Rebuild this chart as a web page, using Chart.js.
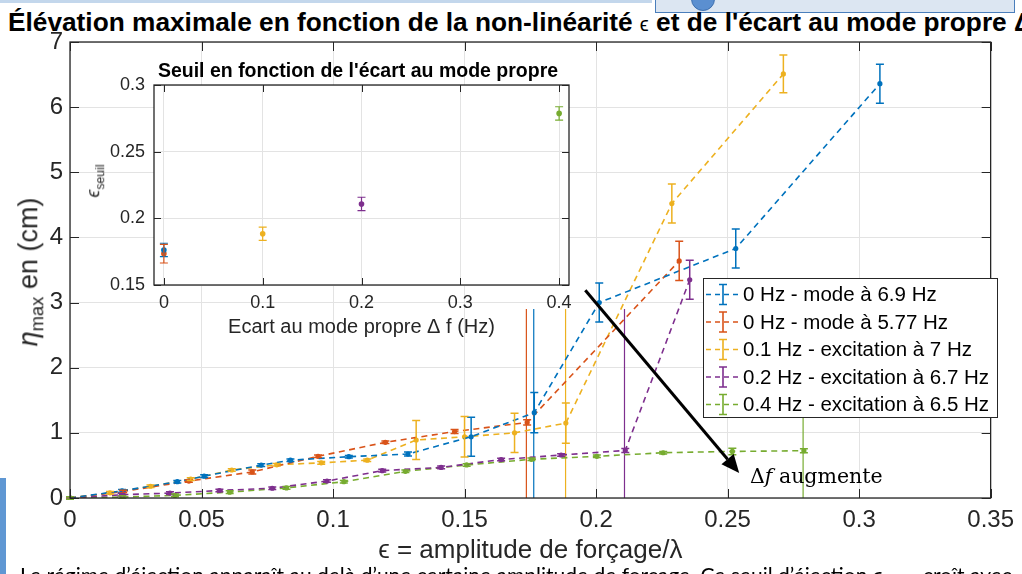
<!DOCTYPE html>
<html lang="fr">
<head>
<meta charset="utf-8">
<title>Élévation maximale</title>
<script src="https://cdn.jsdelivr.net/npm/chart.js@4/dist/chart.umd.min.js"></script>
<style>
  html, body { margin: 0; padding: 0; }
  body { width: 1022px; height: 574px; overflow: hidden; position: relative; background: #fff;
         font-family: "Liberation Sans", Arial, sans-serif; color: #262626; }
  .abs { position: absolute; }
  #bandeHaut { left: 0; top: 0; width: 652px; height: 3px; background: #c3d7ec; }
  #boiteHaut { left: 655px; top: -3px; width: 358px; height: 14px; background: #dce6f2; border: 1.5px solid #4a7ebb; }
  #rond { left: 691px; top: -13px; width: 22px; height: 22px; border-radius: 50%; background: #5b8fd0; border: 1.5px solid #3d6fae; }
  #bandeGauche { left: 0; top: 478px; width: 6px; height: 96px; background: #5f97d3; }
  #titre { left: 8px; top: 9px; font-weight: bold; font-size: 26px; line-height: 26px; white-space: nowrap;
           color: #000; transform-origin: 0 0; transform: scaleX(1.01); }
  #titre .eps { font-weight: normal; font-size: 20px; }
  #ylabel { left: 31px; top: 272px; font-size: 27px; white-space: nowrap; transform: translate(-50%, -50%) rotate(-90deg); color: #262626; }
  #ylabel sub, #ylabelInset sub { font-size: 0.68em; }
  #titreInset { left: 358px; top: 70px; font-weight: bold; font-size: 19.5px; white-space: nowrap; transform: translate(-50%, -50%); color: #000; }
  #ylabelInset { left: 95px; top: 181px; font-size: 18px; white-space: nowrap; transform: translate(-50%, -50%) rotate(-90deg); }
  #fleche { left: 750px; top: 464px; font-family: "DejaVu Serif", serif; font-size: 20.5px; white-space: nowrap; color: #000; }
  #basTexte { left: 20px; top: 562px; font-family: Lato, "Open Sans", sans-serif; font-size: 21px; white-space: nowrap; color: #000; }
</style>
</head>
<body>
<div id="bandeHaut" class="abs"></div>
<div id="boiteHaut" class="abs"></div>
<div id="rond" class="abs"></div>
<div id="bandeGauche" class="abs"></div>
<div id="titre" class="abs">Élévation maximale en fonction de la non-linéarité <span class="eps">ϵ</span> et de l'écart au mode propre Δf</div>

<canvas id="graphePrincipal" class="abs" style="left:0;top:0" width="1022" height="574"></canvas>
<canvas id="grapheInset" class="abs" style="left:80px;top:50px" width="510" height="300"></canvas>

<div id="ylabel" class="abs"><i>η</i><sub>max</sub> en (cm)</div>
<div id="titreInset" class="abs">Seuil en fonction de l'écart au mode propre</div>
<div id="ylabelInset" class="abs"><i>ϵ</i><sub>seuil</sub></div>
<div id="fleche" class="abs">Δ<i>f</i> augmente</div>
<div id="basTexte" class="abs">Le régime d’éjection apparaît au delà d’une certaine amplitude de forçage. Ce seuil d’éjection ϵ<sub>seuil</sub> croît avec</div>

<script>
// ---- données ----
const legendes = ['0 Hz - mode à 6.9 Hz', '0 Hz - mode à 5.77 Hz', '0.1 Hz - excitation à 7 Hz',
                  '0.2 Hz - excitation à 6.7 Hz', '0.4 Hz - excitation à 6.5 Hz'];
const couleurs = ['#0072BD', '#D95319', '#EDB120', '#7E2F8E', '#77AC30'];

// 0 Hz - mode à 6.9 Hz
const epsBleu = [0, 0.0198, 0.0408, 0.051, 0.0727, 0.0838, 0.106, 0.1285, 0.1525, 0.1765, 0.2012, 0.2531, 0.3079];
const etaBleu = [0, 0.11, 0.25, 0.335, 0.505, 0.58, 0.634, 0.675, 0.94, 1.31, 3.0, 3.83, 6.36];
const errBleu = [0.02, 0.02, 0.02, 0.02, 0.02, 0.02, 0.02, 0.03, 0.3, 0.31, 0.3, 0.3, 0.3];

// 0 Hz - mode à 5.77 Hz
const epsRouge = [0, 0.0202, 0.0452, 0.0693, 0.0943, 0.1199, 0.1462, 0.1738, 0.2316];
const etaRouge = [0, 0.10, 0.26, 0.40, 0.64, 0.855, 1.02, 1.16, 3.64];
const errRouge = [0.02, 0.02, 0.02, 0.03, 0.02, 0.02, 0.03, 0.04, 0.3];

// 0.1 Hz - excitation à 7 Hz
const epsJaune = [0, 0.0152, 0.0306, 0.0459, 0.0615, 0.0786, 0.0955, 0.113, 0.1316, 0.150, 0.169, 0.1885, 0.2288, 0.2712];
const etaJaune = [0, 0.08, 0.18, 0.29, 0.43, 0.51, 0.54, 0.58, 0.89, 0.94, 1.0, 1.15, 4.52, 6.51];
const errJaune = [0.02, 0.02, 0.02, 0.02, 0.02, 0.02, 0.02, 0.02, 0.3, 0.31, 0.3, 0.31, 0.3, 0.29];

// 0.2 Hz - excitation à 6.7 Hz
const epsViolet = [0, 0.0196, 0.038, 0.0568, 0.0769, 0.0977, 0.1187, 0.1411, 0.1639, 0.1867, 0.2111, 0.2356];
const etaViolet = [0, 0.05, 0.075, 0.115, 0.15, 0.26, 0.42, 0.47, 0.59, 0.66, 0.73, 3.35];
const errViolet = [0.02, 0.02, 0.02, 0.02, 0.02, 0.02, 0.02, 0.02, 0.02, 0.02, 0.03, 0.3];

// 0.4 Hz - excitation à 6.5 Hz
const epsVert = [0, 0.0199, 0.0399, 0.0607, 0.0823, 0.1041, 0.1275, 0.1508, 0.1754, 0.2003, 0.2255, 0.2518, 0.279];
const etaVert = [0, 0.015, 0.04, 0.09, 0.155, 0.25, 0.41, 0.507, 0.594, 0.64, 0.695, 0.715, 0.726];
const errVert = [0.02, 0.02, 0.02, 0.02, 0.02, 0.02, 0.02, 0.02, 0.02, 0.02, 0.02, 0.05, 0.03];

// seuils d'éjection (traits verticaux + encart)
const ecartMode = [0, 0, 0.1, 0.2, 0.4];
const seuils = [0.1763, 0.1735, 0.1884, 0.2108, 0.2787];
const errSeuils = [0.005, 0.007, 0.005, 0.005, 0.005];
const hauteurSeuil = 2.9;

const ticksX = [0, 0.05, 0.1, 0.15, 0.2, 0.25, 0.3, 0.35];
const ticksY = [0, 1, 2, 3, 4, 5, 6, 7];
const ticksXInset = [0, 0.1, 0.2, 0.3, 0.4];
const ticksYInset = [0.15, 0.2, 0.25, 0.3];

Chart.defaults.font.family = '"Liberation Sans", Arial, sans-serif';
Chart.defaults.color = '#262626';

function points(xs, ys) {
    return xs.map((v, i) => ({ x: v, y: ys[i] }));
}

// barres d'erreur verticales
const barresErreur = {
    id: 'barresErreur',
    afterDatasetsDraw(chart, args, opts) {
        const { ctx, scales: { x, y } } = chart;
        const c = opts.cap;
        ctx.save();
        chart.data.datasets.forEach(ds => {
            if (!ds.erreurs) return;
            ctx.strokeStyle = ds.borderColor;
            ctx.lineWidth = opts.epaisseur;
            ctx.setLineDash([]);
            ctx.beginPath();
            ds.data.forEach((p, j) => {
                const e = ds.erreurs[j];
                const px = x.getPixelForValue(p.x);
                const y1 = y.getPixelForValue(p.y + e);
                const y2 = y.getPixelForValue(p.y - e);
                ctx.moveTo(px, y1); ctx.lineTo(px, y2);
                ctx.moveTo(px - c, y1); ctx.lineTo(px + c, y1);
                ctx.moveTo(px - c, y2); ctx.lineTo(px + c, y2);
            });
            ctx.stroke();
        });
        ctx.restore();
    }
};

// cadre et graduations vers l'intérieur (style matlab)
const cadreMatlab = {
    id: 'cadreMatlab',
    beforeDraw(chart) {
        const { ctx, chartArea: a } = chart;
        ctx.save();
        ctx.fillStyle = '#fff';
        ctx.fillRect(a.left, a.top, a.right - a.left, a.bottom - a.top);
        ctx.restore();
    },
    afterDatasetsDraw(chart, args, opts) {
        const { ctx, chartArea: a, scales: { x, y } } = chart;
        const L = opts.longueur;
        ctx.save();
        ctx.strokeStyle = '#262626';
        ctx.lineWidth = 1;
        ctx.beginPath();
        x.ticks.forEach(t => {
            const px = Math.round(x.getPixelForValue(t.value)) + 0.5;
            ctx.moveTo(px, a.bottom); ctx.lineTo(px, a.bottom - L);
            ctx.moveTo(px, a.top); ctx.lineTo(px, a.top + L);
        });
        y.ticks.forEach(t => {
            const py = Math.round(y.getPixelForValue(t.value)) + 0.5;
            ctx.moveTo(a.left, py); ctx.lineTo(a.left + L, py);
            ctx.moveTo(a.right, py); ctx.lineTo(a.right - L, py);
        });
        ctx.stroke();
        ctx.lineWidth = 1.3;
        ctx.strokeRect(a.left, a.top, a.right - a.left, a.bottom - a.top);
        ctx.restore();
    }
};

// légende dans le graphe, avec le symbole barre d'erreur
const legendeMatlab = {
    id: 'legendeMatlab',
    afterDraw(chart, args, opts) {
        const { ctx } = chart;
        const g = opts.gauche, h = opts.haut;
        ctx.save();
        ctx.fillStyle = '#fff';
        ctx.fillRect(g, h, opts.largeur, opts.hauteur);
        ctx.strokeStyle = '#262626';
        ctx.lineWidth = 1;
        ctx.strokeRect(g + 0.5, h + 0.5, opts.largeur, opts.hauteur);
        ctx.font = opts.police;
        ctx.textBaseline = 'middle';
        legendes.forEach((txt, i) => {
            const yy = h + 16.5 + i * 27.5;
            const col = couleurs[i];
            ctx.strokeStyle = col;
            ctx.lineWidth = 1.6;
            ctx.setLineDash([5, 4]);
            ctx.beginPath();
            ctx.moveTo(g + 3, yy); ctx.lineTo(g + 38, yy);
            ctx.stroke();
            ctx.setLineDash([]);
            ctx.beginPath();
            const cx = g + 20;
            ctx.moveTo(cx, yy - 10); ctx.lineTo(cx, yy + 10);
            ctx.moveTo(cx - 4, yy - 10); ctx.lineTo(cx + 4, yy - 10);
            ctx.moveTo(cx - 4, yy + 10); ctx.lineTo(cx + 4, yy + 10);
            ctx.stroke();
            ctx.fillStyle = '#000';
            ctx.fillText(txt, g + 40, yy + 1);
        });
        ctx.restore();
    }
};

// flèche noire "delta f augmente"
const flecheAnnot = {
    id: 'flecheAnnot',
    afterDraw(chart, args, opts) {
        const { ctx, scales: { x, y } } = chart;
        const x0 = x.getPixelForValue(opts.de[0]), y0 = y.getPixelForValue(opts.de[1]);
        const x1 = x.getPixelForValue(opts.a[0]), y1 = y.getPixelForValue(opts.a[1]);
        const ang = Math.atan2(y1 - y0, x1 - x0);
        const L = 18, W = 8;
        const bx = x1 - L * Math.cos(ang), by = y1 - L * Math.sin(ang);
        ctx.save();
        ctx.strokeStyle = '#000';
        ctx.fillStyle = '#000';
        ctx.lineWidth = 3;
        ctx.beginPath();
        ctx.moveTo(x0, y0); ctx.lineTo(bx, by);
        ctx.stroke();
        ctx.beginPath();
        ctx.moveTo(x1, y1);
        ctx.lineTo(bx + W * Math.sin(ang), by - W * Math.cos(ang));
        ctx.lineTo(bx - W * Math.sin(ang), by + W * Math.cos(ang));
        ctx.closePath();
        ctx.fill();
        ctx.restore();
    }
};

const series = [
    [epsBleu, etaBleu, errBleu],
    [epsRouge, etaRouge, errRouge],
    [epsJaune, etaJaune, errJaune],
    [epsViolet, etaViolet, errViolet],
    [epsVert, etaVert, errVert]
];

const jeux = series.map((s, i) => ({
    label: legendes[i],
    data: points(s[0], s[1]),
    erreurs: s[2],
    borderColor: couleurs[i],
    backgroundColor: couleurs[i],
    borderWidth: 1.6,
    borderDash: [6, 4.5],
    pointRadius: 2.6,
    pointBorderWidth: 0,
    pointBackgroundColor: couleurs[i],
    tension: 0
}));

// traits verticaux au seuil
seuils.forEach((s, i) => {
    jeux.push({
        label: 'seuil ' + legendes[i],
        data: [{ x: s, y: 0 }, { x: s, y: hauteurSeuil }],
        borderColor: couleurs[i],
        borderWidth: 1.2,
        pointRadius: 0,
        tension: 0
    });
});

const fmt = v => String(Number(v.toFixed(2)));

new Chart(document.getElementById('graphePrincipal'), {
    type: 'line',
    data: { datasets: jeux },
    options: {
        responsive: false,
        animation: false,
        layout: { padding: { top: 42, right: 30, left: 0, bottom: 0 } },
        plugins: {
            legend: { display: false },
            tooltip: { enabled: false },
            barresErreur: { cap: 4, epaisseur: 1.5 },
            cadreMatlab: { longueur: 9 },
            legendeMatlab: { gauche: 703, haut: 278, largeur: 294, hauteur: 139, police: '20.5px "Liberation Sans", Arial, sans-serif' },
            flecheAnnot: { de: [0.1959, 3.19], a: [0.2544, 0.384] }
        },
        scales: {
            x: {
                type: 'linear', min: 0, max: 0.35,
                afterBuildTicks: s => { s.ticks = ticksX.map(v => ({ value: v })); },
                afterFit: s => { s.height = 76; },
                grid: { color: '#e3e3e3', drawTicks: false },
                border: { display: false },
                ticks: { font: { size: 24 }, padding: 8, maxRotation: 0, callback: v => fmt(v) },
                title: { display: true, text: 'ϵ = amplitude de forçage/λ', font: { size: 26 }, padding: { top: 0, bottom: 8 }, color: '#262626' }
            },
            y: {
                type: 'linear', min: 0, max: 7,
                afterBuildTicks: s => { s.ticks = ticksY.map(v => ({ value: v })); },
                afterFit: s => { s.width = 70; },
                grid: { color: '#e3e3e3', drawTicks: false },
                border: { display: false },
                ticks: { font: { size: 24 }, padding: 7, callback: v => fmt(v) }
            }
        }
    },
    plugins: [barresErreur, cadreMatlab, legendeMatlab, flecheAnnot]
});

// encart : seuil en fonction de l'écart au mode propre
const jeuxInset = seuils.map((s, i) => ({
    label: legendes[i],
    data: [{ x: ecartMode[i], y: s }],
    erreurs: [errSeuils[i]],
    borderColor: couleurs[i],
    backgroundColor: couleurs[i],
    pointRadius: 2.8,
    pointBorderWidth: 0,
    showLine: false
}));

new Chart(document.getElementById('grapheInset'), {
    type: 'scatter',
    data: { datasets: jeuxInset },
    options: {
        responsive: false,
        animation: false,
        layout: { padding: { top: 35, right: 21, left: 0, bottom: 0 } },
        plugins: {
            legend: { display: false },
            tooltip: { enabled: false },
            barresErreur: { cap: 4, epaisseur: 1.2 },
            cadreMatlab: { longueur: 7 }
        },
        scales: {
            x: {
                type: 'linear', min: -0.01, max: 0.41,
                afterBuildTicks: s => { s.ticks = ticksXInset.map(v => ({ value: v })); },
                afterFit: s => { s.height = 65; },
                grid: { color: '#e3e3e3', drawTicks: false },
                border: { display: false },
                ticks: { font: { size: 18 }, padding: 7, maxRotation: 0, callback: v => fmt(v) },
                title: { display: true, text: 'Ecart au mode propre Δ f (Hz)', font: { size: 20 }, padding: { top: 0, bottom: 11 }, color: '#262626' }
            },
            y: {
                type: 'linear', min: 0.15, max: 0.3,
                afterBuildTicks: s => { s.ticks = ticksYInset.map(v => ({ value: v })); },
                afterFit: s => { s.width = 74; },
                grid: { color: '#e3e3e3', drawTicks: false },
                border: { display: false },
                ticks: { font: { size: 18 }, padding: 9, callback: v => fmt(v) }
            }
        }
    },
    plugins: [barresErreur, cadreMatlab]
});
</script>
</body>
</html>
